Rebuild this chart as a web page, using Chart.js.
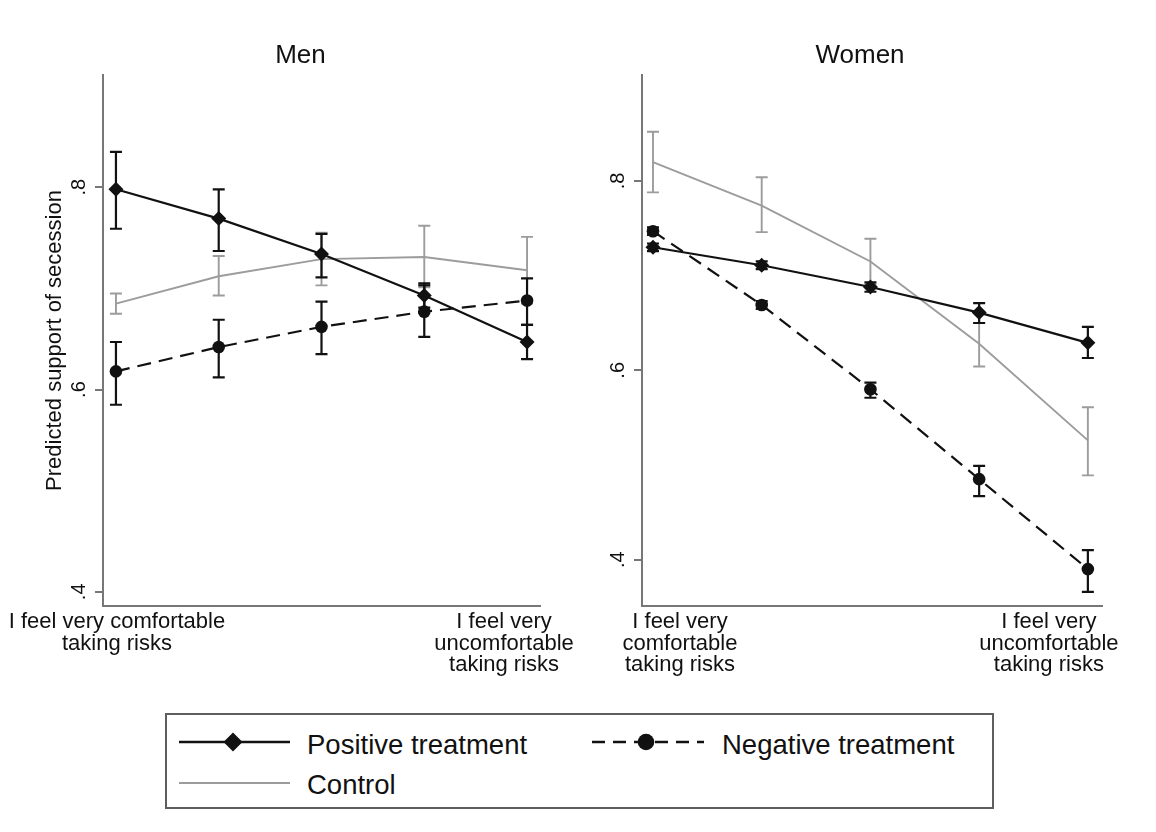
<!DOCTYPE html>
<html>
<head>
<meta charset="utf-8">
<script src="https://cdn.jsdelivr.net/npm/chart.js@4.4.1/dist/chart.umd.min.js"></script>
<style>
  html, body { margin: 0; padding: 0; background: #fff; }
  body { width: 1156px; height: 832px; position: relative; overflow: hidden;
         font-family: "Liberation Sans", Arial, Helvetica, sans-serif; color: #111; }
  canvas { position: absolute; top: 0; }
  #men { left: 0; }
  #women { left: 578px; }
  #legendBox { position: absolute; left: 165px; top: 713px; width: 829px; height: 96px;
               box-sizing: border-box; border: 2px solid #5e5e5e; }
  .key { position: absolute; }
  .keyText { position: absolute; font-size: 27.5px; line-height: 32px; white-space: nowrap; }
</style>
</head>
<body>
<canvas id="men" width="578" height="700"></canvas>
<canvas id="women" width="578" height="700"></canvas>

<div id="legendBox"></div>
<svg class="key" style="left:178px;top:730px" width="114" height="24">
  <line x1="1" y1="12" x2="112" y2="12" stroke="#111" stroke-width="2.6"/>
  <polygon points="55,2.5 64.5,12 55,21.5 45.5,12" fill="#111"/>
</svg>
<div class="keyText" id="keyPos" style="left:307px;top:729px"></div>
<svg class="key" style="left:590px;top:730px" width="116" height="24">
  <line x1="2" y1="12" x2="114" y2="12" stroke="#111" stroke-width="2.6" stroke-dasharray="13 8"/>
  <circle cx="56" cy="12" r="8.3" fill="#111"/>
</svg>
<div class="keyText" id="keyNeg" style="left:722px;top:729px"></div>
<svg class="key" style="left:178px;top:771px" width="114" height="24">
  <line x1="1" y1="12" x2="112" y2="12" stroke="#9c9c9c" stroke-width="2.2"/>
</svg>
<div class="keyText" id="keyCtl" style="left:307px;top:769px"></div>

<script>
// Risk-attitude scale (1 = very comfortable ... 5 = very uncomfortable taking risks)
const riskLevels = [1, 2, 3, 4, 5];
const yTickValues = [0.4, 0.6, 0.8];
const yTickLabels = ['.4', '.6', '.8'];
const panelTitles = ['Men', 'Women'];
const seriesNames = ['Positive treatment', 'Negative treatment', 'Control'];
const yAxisTitle = 'Predicted support of secession';
const menXLabels = [['I feel very comfortable', 'taking risks'],
                    ['I feel very', 'uncomfortable', 'taking risks']];
const womenXLabels = [['I feel very', 'comfortable', 'taking risks'],
                      ['I feel very', 'uncomfortable', 'taking risks']];

// Men: predicted support with 95% confidence bounds
const menPositive   = [0.798, 0.769, 0.734, 0.693, 0.647];
const menPositiveLo = [0.759, 0.737, 0.711, 0.681, 0.630];
const menPositiveHi = [0.835, 0.798, 0.754, 0.705, 0.664];
const menNegative   = [0.618, 0.642, 0.662, 0.677, 0.688];
const menNegativeLo = [0.585, 0.612, 0.635, 0.652, 0.664];
const menNegativeHi = [0.647, 0.669, 0.687, 0.703, 0.710];
const menControl    = [0.685, 0.712, 0.729, 0.731, 0.718];
const menControlLo  = [0.675, 0.693, 0.703, 0.701, 0.685];
const menControlHi  = [0.695, 0.732, 0.755, 0.762, 0.751];

// Women: predicted support with 95% confidence bounds
const womenPositive   = [0.730, 0.711, 0.688, 0.661, 0.629];
const womenPositiveLo = [0.726, 0.707, 0.683, 0.650, 0.613];
const womenPositiveHi = [0.734, 0.715, 0.693, 0.671, 0.646];
const womenNegative   = [0.747, 0.669, 0.580, 0.485, 0.390];
const womenNegativeLo = [0.743, 0.665, 0.571, 0.467, 0.366];
const womenNegativeHi = [0.751, 0.673, 0.587, 0.499, 0.410];
const womenControl    = [0.820, 0.774, 0.715, 0.628, 0.526];
const womenControlLo  = [0.788, 0.746, 0.691, 0.604, 0.489];
const womenControlHi  = [0.852, 0.804, 0.739, 0.650, 0.561];

const INK = '#111111';
const GREY = '#9c9c9c';
const AXIS = '#777777';
const FONT = '"Liberation Sans", Arial, Helvetica, sans-serif';
Chart.defaults.font.family = FONT;
Chart.defaults.color = INK;

document.getElementById('keyPos').textContent = seriesNames[0];
document.getElementById('keyNeg').textContent = seriesNames[1];
document.getElementById('keyCtl').textContent = seriesNames[2];

const toPoints = vals => riskLevels.map((x, i) => ({ x: x, y: vals[i] }));

// Confidence-interval whiskers, drawn under the lines and markers
const errorBars = {
  id: 'errorBars',
  beforeDatasetsDraw(chart) {
    const { ctx, scales: { x, y } } = chart;
    ctx.save();
    for (let d = chart.data.datasets.length - 1; d >= 0; d--) {
      const ds = chart.data.datasets[d];
      ctx.strokeStyle = ds.borderColor;
      ctx.lineWidth = ds.whiskerWidth;
      ds.data.forEach((p, i) => {
        const px = x.getPixelForValue(p.x);
        const top = y.getPixelForValue(ds.hi[i]);
        const bot = y.getPixelForValue(ds.lo[i]);
        ctx.beginPath();
        ctx.moveTo(px, top); ctx.lineTo(px, bot);
        ctx.moveTo(px - 6, top); ctx.lineTo(px + 6, top);
        ctx.moveTo(px - 6, bot); ctx.lineTo(px + 6, bot);
        ctx.stroke();
      });
    }
    ctx.restore();
  }
};

// Panel title, rotated y tick labels and multi-line end labels on the x axis
const panelText = {
  id: 'panelText',
  afterDraw(chart, args, opts) {
    const { ctx, chartArea, scales: { x, y } } = chart;
    ctx.save();
    ctx.fillStyle = INK;

    ctx.font = '26px ' + FONT;
    ctx.textAlign = 'center';
    ctx.textBaseline = 'alphabetic';
    ctx.fillText(opts.title, (chartArea.left + chartArea.right) / 2 + opts.titleShift, chartArea.top - 12);

    ctx.font = '20px ' + FONT;
    ctx.textBaseline = 'middle';
    y.ticks.forEach(t => {
      const k = yTickValues.indexOf(t.value);
      ctx.save();
      ctx.translate(chartArea.left - 24, y.getPixelForValue(t.value));
      ctx.rotate(-Math.PI / 2);
      ctx.fillText(yTickLabels[k], 0, 0);
      ctx.restore();
    });

    ctx.font = '22px ' + FONT;
    ctx.textBaseline = 'alphabetic';
    const ends = [riskLevels[0], riskLevels[riskLevels.length - 1]];
    ends.forEach((v, j) => {
      const cx = x.getPixelForValue(v) + opts.labelShift[j];
      opts.xLabels[j].forEach((line, n) => {
        ctx.fillText(line, cx, chartArea.bottom + 22 + n * 21.5);
      });
    });
    ctx.restore();
  }
};

function makePanel(id, cfg) {
  return new Chart(document.getElementById(id), {
    type: 'line',
    data: {
      datasets: [
        { label: seriesNames[0], data: toPoints(cfg.pos), lo: cfg.posLo, hi: cfg.posHi,
          borderColor: INK, backgroundColor: INK, borderWidth: 2.2, whiskerWidth: 2.2,
          pointStyle: 'rectRot', pointRadius: 7.5, pointHoverRadius: 7.5, pointBorderWidth: 0 },
        { label: seriesNames[1], data: toPoints(cfg.neg), lo: cfg.negLo, hi: cfg.negHi,
          borderColor: INK, backgroundColor: INK, borderWidth: 2.2, borderDash: [14, 8], whiskerWidth: 2.2,
          pointStyle: 'circle', pointRadius: 6.3, pointHoverRadius: 6.3, pointBorderWidth: 0 },
        { label: seriesNames[2], data: toPoints(cfg.ctl), lo: cfg.ctlLo, hi: cfg.ctlHi,
          borderColor: GREY, backgroundColor: GREY, borderWidth: 1.9, whiskerWidth: 1.9,
          pointRadius: 0, pointHoverRadius: 0 }
      ]
    },
    options: {
      responsive: false,
      animation: false,
      devicePixelRatio: 1,
      events: [],
      layout: { padding: { top: 75, left: 0, right: cfg.padRight, bottom: 0 } },
      plugins: {
        legend: { display: false },
        tooltip: { enabled: false },
        panelText: { title: cfg.title, titleShift: cfg.titleShift, xLabels: cfg.xLabels, labelShift: cfg.labelShift }
      },
      scales: {
        x: {
          type: 'linear', min: cfg.xMin, max: cfg.xMax,
          grid: { display: false },
          ticks: { display: false },
          border: { display: true, color: AXIS, width: 2 },
          afterFit: s => { s.height = 94; }
        },
        y: {
          type: 'linear', min: cfg.yMin, max: cfg.yMax,
          afterBuildTicks: s => { s.ticks = yTickValues.map(v => ({ value: v })); },
          grid: { display: true, drawOnChartArea: false, drawTicks: true, tickLength: 8, color: AXIS, lineWidth: 2 },
          ticks: { display: false },
          border: { display: true, color: AXIS, width: 2 },
          title: cfg.yTitle
            ? { display: true, text: yAxisTitle, color: INK, font: { size: 22 }, padding: { top: 42, bottom: 0 } }
            : { display: false },
          afterFit: s => { s.width = cfg.yWidth; }
        }
      }
    },
    plugins: [errorBars, panelText]
  });
}

makePanel('men', {
  title: panelTitles[0], titleShift: -21, xLabels: menXLabels, labelShift: [1, -23],
  pos: menPositive, posLo: menPositiveLo, posHi: menPositiveHi,
  neg: menNegative, negLo: menNegativeLo, negHi: menNegativeHi,
  ctl: menControl, ctlLo: menControlLo, ctlHi: menControlHi,
  xMin: 0.874, xMax: 5.126, yMin: 0.386, yMax: 0.911,
  yWidth: 103, padRight: 38, yTitle: true
});

makePanel('women', {
  title: panelTitles[1], titleShift: -12, xLabels: womenXLabels, labelShift: [27, -39],
  pos: womenPositive, posLo: womenPositiveLo, posHi: womenPositiveHi,
  neg: womenNegative, negLo: womenNegativeLo, negHi: womenNegativeHi,
  ctl: womenControl, ctlLo: womenControlLo, ctlHi: womenControlHi,
  xMin: 0.899, xMax: 5.13, yMin: 0.351, yMax: 0.912,
  yWidth: 64, padRight: 54, yTitle: false
});
</script>
</body>
</html>
